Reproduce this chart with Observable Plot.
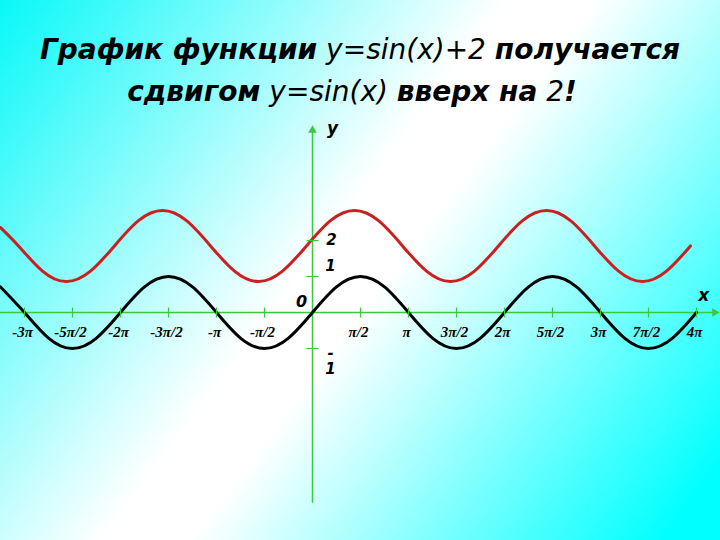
<!DOCTYPE html>
<html>
<head>
<meta charset="utf-8">
<script src="https://cdn.jsdelivr.net/npm/d3@7"></script>
<script src="https://cdn.jsdelivr.net/npm/@observablehq/plot@0.6"></script>
<style>
  html, body { margin: 0; padding: 0; }
  body {
    width: 720px; height: 540px; position: relative; overflow: hidden;
    background: linear-gradient(126.87deg, #08f8f8 0%, #ffffff 45%, #ffffff 53%, #00ffff 95%);
    font-family: "DejaVu Sans", sans-serif;
  }
  #chart { position: absolute; left: 0; top: 0; }
  .tl { position: absolute; left: 0; width: 720px; text-align: center; font-size: 28px; line-height: 1; white-space: nowrap; color: #000; }
  .tl b { font-weight: bold; font-style: oblique; }
  .tl i { font-weight: normal; font-style: oblique; }
</style>
</head>
<body>
<div id="chart"></div>
<div class="tl" style="top:36px"><b>График функции</b> <i>y=sin(x)+2</i> <b>получается</b></div>
<div class="tl" style="top:78px; left:-8px"><b>сдвигом</b> <i>y=sin(x)</i> <b>вверх на</b> <i>2</i><b>!</b></div>
<script>
// x values in units of π
const blackX = [-3.25,-3,-2.75,-2.5,-2.25,-2,-1.75,-1.5,-1.25,-1,-0.75,-0.5,-0.25,0,0.25,0.5,0.75,1,1.25,1.5,1.75,2,2.25,2.5,2.75,3,3.25,3.5,3.75,4];
const blackY = [0.71,0,-0.71,-1,-0.71,0,0.71,1,0.71,0,-0.71,-1,-0.71,0,0.71,1,0.71,0,-0.71,-1,-0.71,0,0.71,1,0.71,0,-0.71,-1,-0.71,0];
const redX = [-3.25,-3.0625,-2.8125,-2.5625,-2.3125,-2.0625,-1.8125,-1.5625,-1.3125,-1.0625,-0.8125,-0.5625,-0.3125,-0.0625,0.1875,0.4375,0.6875,0.9375,1.1875,1.4375,1.6875,1.9375,2.1875,2.4375,2.6875,2.9375,3.1875,3.4375,3.6875,3.9375];
const redY = [2.36,1.85,1.15,0.86,1.15,1.85,2.55,2.83,2.55,1.85,1.15,0.86,1.15,1.85,2.55,2.83,2.55,1.85,1.15,0.86,1.15,1.85,2.55,2.83,2.55,1.85,1.15,0.86,1.15,1.85];
const xTickVals = [-3,-2.5,-2,-1.5,-1,-0.5,0.5,1,1.5,2,2.5,3,3.5,4];
const xTickLabels = ["-3π","-5π/2","-2π","-3π/2","-π","-π/2","π/2","π","3π/2","2π","5π/2","3π","7π/2","4π"];
const yTickVals = [-1,1,2];
const xDomain = [-3.25, 4.25];
const yDomain = [-19/3, 26/3];
const xAxisEnd = 4.19;
const yAxisExtent = [-5.3, 5.06];

const green = "#3cc83c";
const blackData = blackX.map((x, i) => ({x, y: blackY[i]}));
const redData = redX.map((x, i) => ({x, y: redY[i]}));
const xTicks = xTickVals.map((x, i) => ({x, label: xTickLabels[i]}));

const vtick = {draw(ctx, size) { const r = Math.sqrt(size / Math.PI); ctx.moveTo(0, -r); ctx.lineTo(0, r); }};
const htick = {draw(ctx, size) { const r = Math.sqrt(size / Math.PI); ctx.moveTo(-r, 0); ctx.lineTo(r, 0); }};

const chart = Plot.plot({
  width: 720, height: 540,
  margin: 0,
  style: {background: "transparent", overflow: "visible"},
  x: {domain: xDomain, axis: null},
  y: {domain: yDomain, axis: null},
  marks: [
    Plot.ruleY([0], {x1: xDomain[0], x2: xAxisEnd, stroke: green, strokeWidth: 1.5}),
    Plot.ruleX([0], {y1: yAxisExtent[0], y2: yAxisExtent[1], stroke: green, strokeWidth: 1.5}),
    Plot.dot([xAxisEnd], {x: d => d, y: 0, symbol: "triangle", rotate: 90, r: 3.2, fill: green, stroke: "none"}),
    Plot.dot([yAxisExtent[1]], {x: 0, y: d => d, symbol: "triangle", r: 3.2, fill: green, stroke: "none"}),
    Plot.line(redData, {x: "x", y: "y", curve: "natural", stroke: "#cc1f1f", strokeWidth: 3}),
    Plot.line(blackData, {x: "x", y: "y", curve: "natural", stroke: "#000", strokeWidth: 3}),
    Plot.dot(xTickVals, {x: d => d, y: 0, symbol: vtick, r: 5, fill: "none", stroke: green, strokeWidth: 1.2}),
    Plot.dot(yTickVals, {x: 0, y: d => d, symbol: htick, r: 6, fill: "none", stroke: green, strokeWidth: 1.2}),
    Plot.text(xTicks, {x: "x", y: 0, text: "label", dy: 20, dx: -2, fill: "#000",
      fontFamily: "Liberation Serif", fontWeight: "bold", fontStyle: "italic", fontSize: 15}),
    Plot.text(["2"], {x: 0, y: 2, text: d => d, dx: 19, fill: "#000", textAnchor: "middle",
      fontFamily: "DejaVu Sans", fontWeight: "bold", fontStyle: "italic", fontSize: 15}),
    Plot.text(["1"], {x: 0, y: 1, text: d => d, dx: 18, dy: -10, fill: "#000", textAnchor: "middle",
      fontFamily: "DejaVu Sans", fontWeight: "bold", fontStyle: "italic", fontSize: 15}),
    Plot.text(["-\n1"], {x: 0, y: -1, text: d => d, dx: 18, dy: 12, lineHeight: 1.1, fill: "#000", textAnchor: "middle",
      fontFamily: "DejaVu Sans", fontWeight: "bold", fontStyle: "italic", fontSize: 15}),
    Plot.text(["0"], {x: 0, y: 0, text: d => d, dx: -11, dy: -11, fill: "#000", stroke: "#fff", strokeWidth: 1.5,
      fontFamily: "DejaVu Sans", fontWeight: "bold", fontStyle: "italic", fontSize: 16}),
    Plot.text(["y"], {x: 0, y: yAxisExtent[1], text: d => d, dx: 20, dy: -2, fill: "#000",
      fontFamily: "DejaVu Sans", fontWeight: "bold", fontStyle: "italic", fontSize: 17}),
    Plot.text(["x"], {x: xAxisEnd, y: 0, text: d => d, dx: -11, dy: -17, fill: "#000",
      fontFamily: "DejaVu Sans", fontWeight: "bold", fontStyle: "italic", fontSize: 17})
  ]
});
document.getElementById("chart").appendChild(chart);
</script>
</body>
</html>
